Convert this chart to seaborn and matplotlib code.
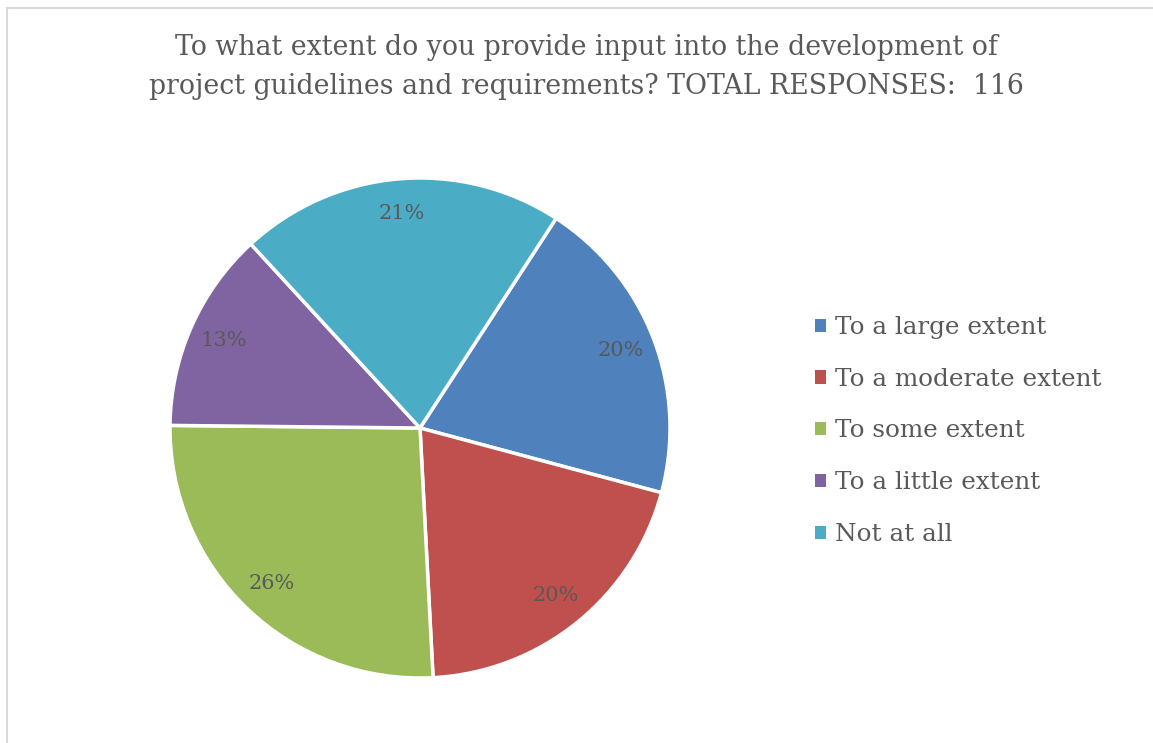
import matplotlib
matplotlib.use("Agg")
import matplotlib.pyplot as plt
from matplotlib.patches import Patch, Rectangle
import seaborn as sns

# share of responses in percent (116 total)
categories = ["To a large extent", "To a moderate extent", "To some extent",
              "To a little extent", "Not at all"]
shares = [20, 20, 26, 13, 21]
colors = ["#4F81BD", "#C0504D", "#9BBB59", "#8064A2", "#4BACC6"]
title = ("To what extent do you provide input into the development of\n"
         "project guidelines and requirements? TOTAL RESPONSES:  116")

sns.set_theme(style="white")
plt.rcParams['font.family'] = ['DejaVu Serif']
text_col = "#595959"

W, H = 1153, 743
fig = plt.figure(figsize=(W / 100, H / 100), dpi=100)

# pie box: center (420, 428), radius 250 px
ax = fig.add_axes([(420 - 250) / W, (H - 678) / H, 500 / W, 500 / H])
wedges, _, autotexts = ax.pie(shares, colors=colors, startangle=57, counterclock=False,
                              autopct=lambda p: f"{p:.0f}%", pctdistance=0.86,
                              wedgeprops=dict(edgecolor="white", linewidth=2.5),
                              textprops=dict(color=text_col, fontsize=15))
ax.set_xlim(-1, 1)
ax.set_ylim(-1, 1)
ax.set_aspect("equal")
ax.axis("off")

fig.text(586 / W, 1 - 67 / H, title, ha="center", va="center", fontsize=19.3,
         color=text_col, linespacing=1.6)

handles = [Patch(facecolor=c, edgecolor="none") for c in colors]
fig.legend(handles, categories, loc="center left", bbox_to_anchor=(793 / W, 1 - 431 / H),
           frameon=False, fontsize=17.7, labelcolor=text_col, handlelength=0.45,
           handleheight=0.45, handletextpad=0.37, labelspacing=1.17)

# light chart border
fig.patches.append(Rectangle((6.5 / W, -0.01), 1.0, 1 - 7.5 / H + 0.01, transform=fig.transFigure,
                             fill=False, edgecolor="#D9D9D9", linewidth=1.5))

fig.savefig("out.png", dpi=100)
